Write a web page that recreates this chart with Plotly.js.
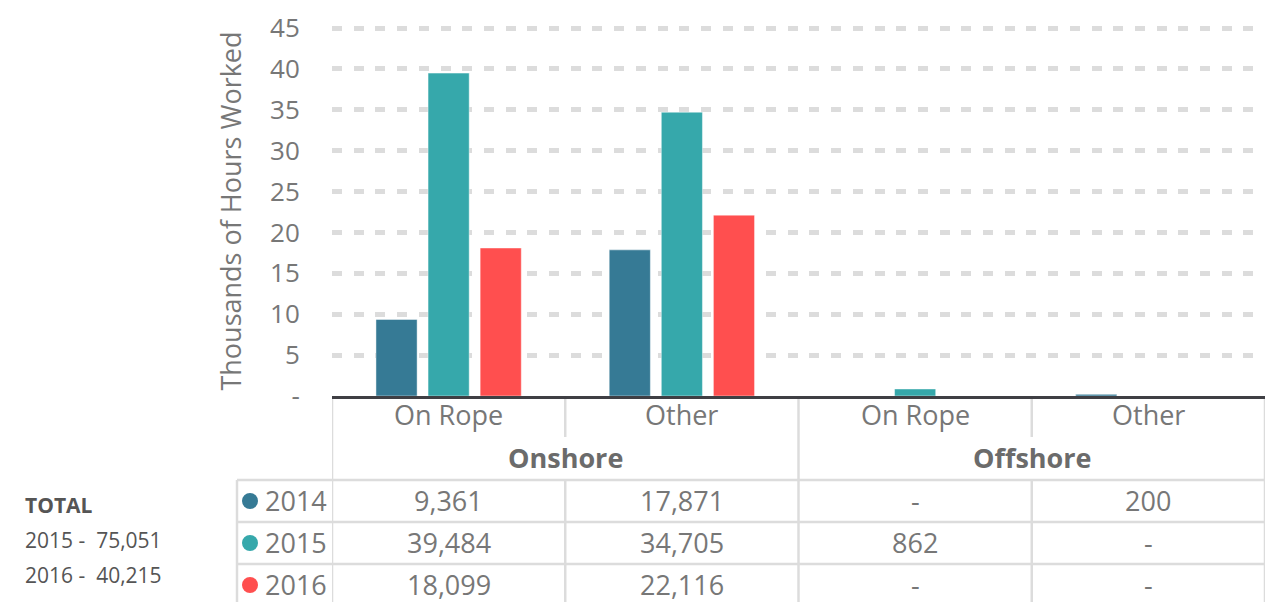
<!DOCTYPE html>
<html>
<head>
<meta charset="utf-8">
<script src="https://cdn.plot.ly/plotly-3.0.1.min.js"></script>
<style>html,body{margin:0;padding:0;background:#fff;}#chart{width:1275px;height:602px;}</style>
</head>
<body>
<div id="chart"></div>
<script>
// ---- data ----
var categories = ['On Rope', 'Other', 'On Rope', 'Other'];
var groups = ['Onshore', 'Offshore'];
var groupSpan = [[0, 1], [2, 3]];
var years = ['2014', '2015', '2016'];
var hours2014 = [9361, 17871, null, 200];
var hours2015 = [39484, 34705, 862, null];
var hours2016 = [18099, 22116, null, null];
var totalYears = ['2015', '2016'];
var totalValues = [75051, 40215];
var yTicks = [0, 5, 10, 15, 20, 25, 30, 35, 40, 45];
var yTickText = ['-', '5', '10', '15', '20', '25', '30', '35', '40', '45'];
var colors = ['#367a95', '#36a8ab', '#ff4f4f'];

// ---- helpers (pixel -> paper positions for the table) ----
var L = 332, R = 10, T = 26, B = 206, W = 1275, H = 602;
var PW = W - L - R, PH = H - T - B;
function xp(px) { return (px - L) / PW; }
function yp(py) { return (H - B - py) / PH; }
function fmt(v) { return v == null ? '-' : v.toLocaleString('en-US'); }

var xs = categories.map(function (c, i) { return i; });
var series = [hours2014, hours2015, hours2016];

var traces = series.map(function (s, k) {
  return {
    type: 'bar',
    name: years[k],
    x: xs,
    y: s.map(function (v) { return v == null ? 0 : v / 1000; }),
    marker: { color: colors[k], line: { color: 'rgba(255,255,255,0.45)', width: 1 } },
    hoverinfo: 'skip'
  };
});

var FONT = 'Open Sans, sans-serif';
var TXT = '#777777';
var GRID = '#dcdcdc';
var shapes = [];
var ann = [];

function vline(xref, x, py0, py1) {
  shapes.push({ type: 'line', xref: xref, yref: 'paper', x0: x, x1: x, y0: yp(py0), y1: yp(py1),
    line: { color: GRID, width: 2.5 }, layer: 'below' });
}
function hline(px0, py) {
  shapes.push({ type: 'line', xref: 'paper', yref: 'paper', x0: xp(px0), x1: 1, y0: yp(py), y1: yp(py),
    line: { color: GRID, width: 2.5 }, layer: 'below' });
}

// vertical table lines
vline('x', -0.5, 396, 604);
vline('x', 0.5, 397, 437); vline('x', 0.5, 480, 604);
vline('x', 1.5, 397, 604);
vline('x', 2.5, 397, 437); vline('x', 2.5, 480, 604);
vline('x', 3.5, 397, 604);
vline('paper', xp(237), 480, 604);
// horizontal table lines
hline(237, 480); hline(237, 522); hline(237, 564);

// category labels
categories.forEach(function (c, i) {
  ann.push({ xref: 'x', yref: 'paper', x: i, y: yp(415), text: c, showarrow: false,
    xanchor: 'center', yanchor: 'middle', font: { family: FONT, size: 27, color: TXT } });
});
// group labels
groups.forEach(function (g, j) {
  ann.push({ xref: 'x', yref: 'paper', x: (groupSpan[j][0] + groupSpan[j][1]) / 2, y: yp(457), text: '<b>' + g + '</b>',
    showarrow: false, xanchor: 'center', yanchor: 'middle', font: { family: FONT, size: 27, color: '#6b6b6b' } });
});
// data rows
var rowY = [500, 542, 584];
series.forEach(function (s, k) {
  shapes.push({ type: 'circle', xref: 'paper', yref: 'paper', x0: xp(242), x1: xp(258), y0: yp(rowY[k] + 9), y1: yp(rowY[k] - 7),
    fillcolor: colors[k], line: { width: 0 } });
  ann.push({ xref: 'paper', yref: 'paper', x: xp(263), y: yp(rowY[k]), text: years[k], showarrow: false,
    xanchor: 'left', yanchor: 'middle', font: { family: FONT, size: 27, color: TXT } });
  s.forEach(function (v, i) {
    ann.push({ xref: 'x', yref: 'paper', x: i, y: yp(rowY[k]), text: fmt(v), showarrow: false,
      xanchor: 'center', yanchor: 'middle', font: { family: FONT, size: 27, color: TXT } });
  });
});
// totals block
ann.push({ xref: 'paper', yref: 'paper', x: xp(23), y: yp(505), text: '<b>TOTAL</b>', showarrow: false,
  xanchor: 'left', yanchor: 'middle', font: { family: FONT, size: 21, color: '#555555' } });
totalYears.forEach(function (y, k) {
  ann.push({ xref: 'paper', yref: 'paper', x: xp(23), y: yp(540 + 35 * k), text: y + ' -  ' + fmt(totalValues[k]), showarrow: false,
    xanchor: 'left', yanchor: 'middle', font: { family: FONT, size: 21, color: '#555555' } });
});

var layout = {
  width: W, height: H,
  margin: { l: L, r: R, t: T, b: B, pad: 0 },
  paper_bgcolor: '#ffffff', plot_bgcolor: '#ffffff',
  showlegend: false,
  barmode: 'group', bargap: 0.33, bargroupgap: 0.21,
  font: { family: FONT, color: TXT },
  xaxis: {
    range: [-0.5, 3.5], showticklabels: false, ticks: '', showgrid: false, zeroline: false,
    showline: true, linecolor: '#3f3f44', linewidth: 2.5, fixedrange: true
  },
  yaxis: {
    range: [0, 45.245], tickvals: yTicks, ticktext: yTickText,
    tickfont: { family: FONT, size: 26, color: TXT },
    ticks: 'outside', ticklen: 26, tickcolor: 'rgba(0,0,0,0)',
    showgrid: true, gridcolor: GRID, gridwidth: 5, griddash: '10px,11.7px',
    zeroline: false, showline: false,
    title: { text: 'Thousands of Hours Worked', font: { family: FONT, size: 27, color: TXT }, standoff: 20 },
    fixedrange: true
  },
  shapes: shapes,
  annotations: ann
};

Plotly.newPlot('chart', traces, layout, { displayModeBar: false, staticPlot: true });
</script>
</body>
</html>
